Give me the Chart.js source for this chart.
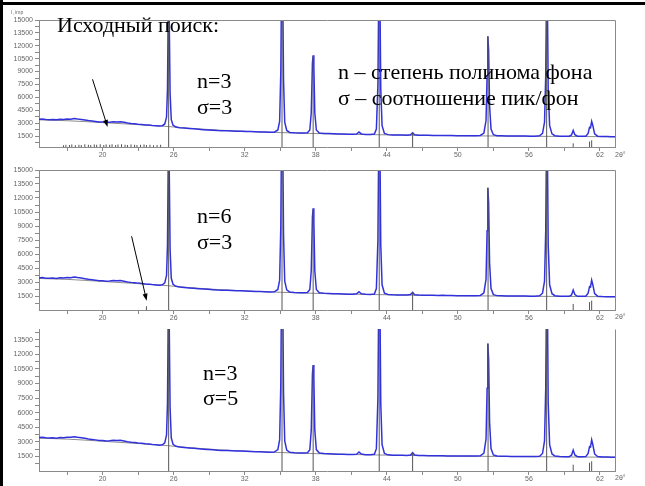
<!DOCTYPE html>
<html>
<head>
<meta charset="utf-8">
<script src="https://cdn.jsdelivr.net/npm/chart.js@4.4.1/dist/chart.umd.min.js"></script>
<style>
  body { margin: 0; width: 645px; height: 486px; position: relative; overflow: hidden; background: #fff; font-family: "Liberation Serif", "Times New Roman", serif; }
  .panel { position: absolute; left: 0; width: 645px; }
  .txt { position: absolute; font-size: 22px; line-height: 22px; color: #000; white-space: nowrap; }
  .small { position: absolute; font-family: "Liberation Sans", Arial, sans-serif; color: #666; white-space: nowrap; }
  #frameTop { position: absolute; left: 0; top: 2px; width: 645px; height: 3px; background: #000; }
  #frameLeft { position: absolute; left: 0; top: 0; width: 3px; height: 486px; background: #000; }
</style>
</head>
<body>
<div class="panel" style="top:0;height:163px"><canvas id="c1" width="645" height="163"></canvas></div>
<div class="panel" style="top:163px;height:159px"><canvas id="c2" width="645" height="159"></canvas></div>
<div class="panel" style="top:322px;height:164px"><canvas id="c3" width="645" height="164"></canvas></div>
<div id="frameTop"></div>
<div id="frameLeft"></div>

<div class="small" style="left:11px;top:9px;font-size:5px">I, imp</div>
<div class="small" style="left:615px;top:151px;font-size:7px">2θ°</div>
<div class="small" style="left:615px;top:313px;font-size:7px">2θ°</div>
<div class="small" style="left:615px;top:474px;font-size:7px">2θ°</div>

<div class="txt" style="left:57px;top:14px">Исходный поиск:</div>
<div class="txt" style="left:197px;top:70px">n=3</div>
<div class="txt" style="left:197px;top:96px">σ=3</div>
<div class="txt" style="left:338px;top:61px">n – степень полинома фона</div>
<div class="txt" style="left:338px;top:87px">σ – соотношение пик/фон</div>
<div class="txt" style="left:197px;top:205px">n=6</div>
<div class="txt" style="left:197px;top:231px">σ=3</div>
<div class="txt" style="left:203px;top:362px">n=3</div>
<div class="txt" style="left:203px;top:387px">σ=5</div>

<script>
const twoTheta = [
  14.63, 14.9, 15.2, 15.5, 15.8, 16.1, 16.4, 16.7, 17.0, 17.3, 17.6, 17.9, 18.2, 18.5, 18.8, 19.1, 19.4, 19.7,
  20.0, 20.3, 20.6, 20.9, 21.2, 21.5, 21.8, 22.1, 22.4, 22.7, 23.0, 23.3, 23.6, 23.9, 24.2, 24.5, 24.8,
  25.05, 25.25, 25.40, 25.48, 25.55, 25.62, 25.70, 25.80, 25.95,
  26.2, 26.5, 26.9, 27.3, 27.7, 28.1, 28.5, 28.9, 29.3, 29.7, 30.1, 30.5, 30.9, 31.3, 31.7, 32.1, 32.5,
  32.9, 33.3, 33.7, 34.1, 34.5,
  34.8, 34.95, 35.05, 35.13, 35.20, 35.28, 35.38, 35.55,
  35.8, 36.2, 36.6, 37.0, 37.3,
  37.5, 37.62, 37.72, 37.78, 37.84, 37.92, 38.05,
  38.3, 38.7, 39.1, 39.5, 39.9, 40.3, 40.7, 41.1, 41.45, 41.65, 41.85, 42.2, 42.6,
  42.95, 43.12, 43.25, 43.33, 43.41, 43.49, 43.60, 43.80,
  44.1, 44.5, 44.9, 45.3, 45.7, 46.0, 46.18, 46.35, 46.7, 47.1, 47.5, 47.9, 48.3, 48.7, 49.1, 49.5,
  49.9, 50.3, 50.7, 51.1, 51.5, 51.9,
  52.2, 52.38, 52.47, 52.53, 52.60, 52.68, 52.80, 53.0,
  53.3, 53.7, 54.1, 54.5, 54.9, 55.3, 55.7, 56.1, 56.5, 56.9,
  57.15, 57.32, 57.42, 57.49, 57.56, 57.63, 57.75, 57.95,
  58.2, 58.6, 59.0, 59.4, 59.6, 59.74, 59.88, 60.1, 60.5, 60.8,
  61.0, 61.12, 61.2, 61.3, 61.4, 61.55, 61.8, 62.2, 62.6, 63.0, 63.27
];
const intensity = [
  3440, 3470, 3410, 3390, 3430, 3380, 3450, 3420, 3480, 3460, 3530, 3470, 3420, 3360, 3300, 3250, 3200, 3140,
  3130, 3090, 3110, 3150, 3140, 3170, 3090, 3010, 2960, 2930, 2880, 2850, 2790, 2770, 2720, 2690, 2660,
  2700, 2900, 3700, 7000, 17000, 16000, 6500, 3400, 2750,
  2540, 2470, 2420, 2370, 2330, 2280, 2240, 2210, 2180, 2140, 2120, 2110, 2080, 2060, 2050, 2030, 2010,
  1990, 1980, 1960, 1940, 1950,
  2200, 3200, 9000, 22000, 20000, 8000, 3100, 2150,
  1920, 1880, 1860, 1850, 1880,
  2200, 4200, 10000, 10900, 9500, 4200, 2200,
  1840, 1800, 1780, 1750, 1730, 1720, 1700, 1700, 1730, 1960, 1740, 1680, 1670,
  1720, 2300, 7500, 20000, 19000, 7000, 2700, 1800,
  1660, 1630, 1620, 1610, 1600, 1650, 1880, 1640, 1600, 1590, 1580, 1570, 1560, 1570, 1550, 1550,
  1540, 1540, 1530, 1530, 1530, 1560,
  1850, 3300, 8500, 13100, 11500, 5000, 2300, 1650,
  1540, 1520, 1510, 1500, 1500, 1490, 1490, 1480, 1480, 1520,
  1800, 3100, 8500, 18500, 17500, 7000, 2700, 1750,
  1530, 1480, 1470, 1470, 1620, 2150, 1650, 1470, 1460, 1480,
  1800, 2500, 2450, 3200, 2700, 1750, 1480, 1440, 1430, 1420, 1420
];

// fitted background polynomial
const bgTheta = [14.63, 17, 20, 22.5, 25, 27.5, 30, 35, 40, 45, 50, 55, 60, 63.27];
const bgIntensity = [3380, 3280, 3060, 2860, 2660, 2380, 2170, 1900, 1720, 1610, 1530, 1480, 1440, 1420];

// found peaks (stick markers)
const peakTheta = [25.58, 35.15, 37.78, 43.36, 46.18, 52.55, 57.50, 59.74, 61.12, 61.30];
const peakHeight = [16000, 20000, 10800, 20000, 1880, 13100, 20000, 650, 850, 1000];

// false peaks found in the noise
const falseTheta1 = [16.7, 16.9, 17.2, 17.4, 17.7, 18.0, 18.2, 18.5, 18.8, 19.0, 19.3, 19.5, 19.8, 20.1, 20.3, 20.6,
  20.8, 21.1, 21.3, 21.6, 21.9, 22.1, 22.4, 22.7, 22.9, 23.2, 23.5, 23.7, 24.0, 24.3, 24.6, 24.9];
const falseHeight1 = [420, 480, 450, 520, 430, 480, 450, 540, 480, 450, 520, 480, 540, 450, 520, 480,
  540, 450, 520, 540, 480, 450, 520, 480, 450, 480, 520, 450, 480, 420, 450, 480];
const falseTheta2 = [23.7];
const falseHeight2 = [400];

// axis ticks
const xTicks = [17, 20, 23, 26, 29, 32, 35, 38, 41, 44, 47, 50, 53, 56, 59, 62];
const xLabels = [20, 26, 32, 38, 44, 50, 56, 62];
const yLabels = [1500, 3000, 4500, 6000, 7500, 9000, 10500, 12000, 13500, 15000];

const patternPoints = twoTheta.map((t, i) => ({ x: t, y: intensity[i] }));
const bgPoints = bgTheta.map((t, i) => ({ x: t, y: bgIntensity[i] }));

function sticks(pos, h, base) {
  const pts = [];
  pos.forEach((p, i) => {
    pts.push({ x: p, y: base }, { x: p, y: h[i] }, { x: p, y: null });
  });
  return pts;
}

const arrowPlugin = {
  id: 'arrows',
  afterDatasetsDraw(chart, args, opts) {
    const { ctx, scales: { x, y } } = chart;
    (opts.list || []).forEach(a => {
      const x0 = x.getPixelForValue(a.from[0]), y0 = y.getPixelForValue(a.from[1]);
      const x1 = x.getPixelForValue(a.to[0]), y1 = y.getPixelForValue(a.to[1]);
      const ang = Math.atan2(y1 - y0, x1 - x0);
      ctx.save();
      ctx.strokeStyle = '#000';
      ctx.fillStyle = '#000';
      ctx.lineWidth = 1;
      ctx.beginPath();
      ctx.moveTo(x0, y0);
      ctx.lineTo(x1 - 4 * Math.cos(ang), y1 - 4 * Math.sin(ang));
      ctx.stroke();
      ctx.beginPath();
      ctx.moveTo(x1, y1);
      ctx.lineTo(x1 - 7 * Math.cos(ang) + 2.5 * Math.sin(ang), y1 - 7 * Math.sin(ang) - 2.5 * Math.cos(ang));
      ctx.lineTo(x1 - 7 * Math.cos(ang) - 2.5 * Math.sin(ang), y1 - 7 * Math.sin(ang) + 2.5 * Math.cos(ang));
      ctx.closePath();
      ctx.fill();
      ctx.restore();
    });
  }
};

const boxPlugin = {
  id: 'box',
  afterDraw(chart, args, opts) {
    const { ctx, chartArea: a } = chart;
    ctx.save();
    ctx.strokeStyle = '#8a8a8a';
    ctx.lineWidth = 1;
    ctx.beginPath();
    if (opts.top) {
      ctx.moveTo(Math.round(a.left) + 0.5, Math.round(a.top) + 0.5);
      ctx.lineTo(Math.round(a.right) + 0.5, Math.round(a.top) + 0.5);
    } else {
      ctx.moveTo(Math.round(a.right) + 0.5, Math.round(a.top) + 0.5);
    }
    ctx.lineTo(Math.round(a.right) + 0.5, Math.round(a.bottom) + 0.5);
    ctx.stroke();
    ctx.restore();
  }
};

function makePanel(id, cfg) {
  const yTicks = yLabels.flatMap(v => [v - 750, v]).filter(v => v <= cfg.yMax && v > cfg.yMin);
  new Chart(document.getElementById(id), {
    type: 'line',
    data: {
      datasets: [
        { data: sticks(peakTheta, peakHeight, cfg.yMin).concat(sticks(cfg.falseTheta, cfg.falseHeight, cfg.yMin)),
          borderColor: '#555555', borderWidth: 1, pointRadius: 0, spanGaps: false, order: 0 },
        { data: patternPoints, borderColor: '#3232dc', borderWidth: 1.5, pointRadius: 0, tension: 0, order: 1 },
        { data: bgPoints, borderColor: '#8c8c8c', borderWidth: 1, pointRadius: 0, cubicInterpolationMode: 'monotone', order: 2 }
      ]
    },
    options: {
      responsive: false,
      animation: false,
      events: [],
      layout: { padding: { top: cfg.padTop, left: 6, right: 30, bottom: 0 } },
      plugins: {
        legend: { display: false },
        tooltip: { enabled: false },
        arrows: { list: cfg.arrows },
        box: { top: cfg.boxTop }
      },
      scales: {
        x: {
          type: 'linear',
          min: 14.63,
          max: 63.27,
          afterBuildTicks: s => { s.ticks = xTicks.map(v => ({ value: v })); },
          afterFit: s => { s.height = cfg.xAxisH; },
          ticks: {
            autoSkip: false, maxRotation: 0, padding: 0,
            font: { family: 'Liberation Sans', size: 7 }, color: '#666',
            callback: v => xLabels.includes(v) ? String(v) : ''
          },
          grid: { drawOnChartArea: false, drawTicks: true, tickLength: 4, color: '#8a8a8a' },
          border: { color: '#8a8a8a' }
        },
        y: {
          min: cfg.yMin,
          max: cfg.yMax,
          afterBuildTicks: s => { s.ticks = yTicks.map(v => ({ value: v })); },
          afterFit: s => { s.width = 33; },
          ticks: {
            autoSkip: false, padding: 2,
            font: { family: 'Liberation Sans', size: 7 }, color: '#666',
            callback: v => yLabels.includes(v) ? String(v) : ''
          },
          grid: { drawOnChartArea: false, drawTicks: true, tickLength: 4, color: '#8a8a8a' },
          border: { color: '#8a8a8a' }
        }
      }
    },
    plugins: [arrowPlugin, boxPlugin]
  });
}

makePanel('c1', { yMin: 220, yMax: 15000, padTop: 20, xAxisH: 16, boxTop: true,
  falseTheta: falseTheta1, falseHeight: falseHeight1,
  arrows: [{ from: [19.15, 8100], to: [20.42, 2550] }] });
makePanel('c2', { yMin: 0, yMax: 15000, padTop: 7, xAxisH: 12, boxTop: true,
  falseTheta: falseTheta2, falseHeight: falseHeight2,
  arrows: [{ from: [22.45, 7900], to: [23.72, 1000] }] });
makePanel('c3', { yMin: 0, yMax: 14600, padTop: 7, xAxisH: 15, boxTop: false,
  falseTheta: [], falseHeight: [], arrows: [] });
</script>
</body>
</html>
